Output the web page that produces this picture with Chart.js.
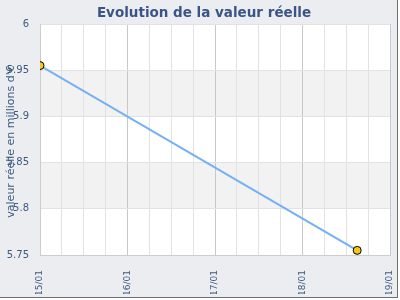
<!DOCTYPE html>
<html>
<head>
<meta charset="utf-8">
<script src="https://cdn.jsdelivr.net/npm/chart.js@4/dist/chart.umd.min.js"></script>
<style>
  html, body { margin: 0; padding: 0; background: #fff; }
  #wrap { width: 397px; height: 297px; background: #ecedf0; border-right: 1px solid #6e6e6e; border-bottom: 1px solid #6e6e6e; }
</style>
</head>
<body>
<div id="wrap"><canvas id="myChart" width="397" height="297"></canvas></div>
<script>
    // Data
    var dayLabels = ['15/01', '16/01', '17/01', '18/01', '19/01'];
    var pointDays = [0, 3.625]; // days after 15/01
    var values = [5.955, 5.755];
    var yTicks = [5.75, 5.8, 5.85, 5.9, 5.95, 6];
    var shadedBands = [[5.9, 5.95], [5.8, 5.85]];

    var chartTitle = 'Evolution de la valeur réelle';
    var yTitle = "valeur réelle en millions d'€";
    var textColor = '#3d5a80';
    var font = 'DejaVu Sans';

    var points = pointDays.map(function (d, i) {
        return { x: d, y: values[i] };
    });

    // White plot area with alternating grey bands
    var bandsPlugin = {
        id: 'bands',
        beforeDraw: function (chart) {
            var ctx = chart.ctx;
            var area = chart.chartArea;
            var y = chart.scales.y;
            ctx.save();
            ctx.fillStyle = '#ffffff';
            ctx.fillRect(area.left, area.top, area.right - area.left, area.bottom - area.top);
            ctx.fillStyle = '#f2f2f2';
            shadedBands.forEach(function (b) {
                var top = y.getPixelForValue(b[1]);
                var bottom = y.getPixelForValue(b[0]);
                ctx.fillRect(area.left, top, area.right - area.left, bottom - top);
            });
            ctx.restore();
        }
    };

    // Titles: chart title a bit right of centre, y title over the tick labels
    var titlesPlugin = {
        id: 'titles',
        afterDraw: function (chart) {
            var ctx = chart.ctx;
            var area = chart.chartArea;
            ctx.save();
            ctx.fillStyle = '#3a5585';
            ctx.font = 'bold 13.5px ' + font;
            ctx.textAlign = 'center';
            ctx.textBaseline = 'alphabetic';
            ctx.fillText(chartTitle, 204, 17);

            ctx.translate(11, (area.top + area.bottom) / 2 + 2);
            ctx.rotate(-Math.PI / 2);
            ctx.font = '11px ' + font;
            ctx.fillStyle = textColor;
            ctx.textBaseline = 'middle';
            ctx.fillText(yTitle, 0, 0);
            ctx.restore();
        }
    };

    var ctx = document.getElementById('myChart').getContext('2d');
    var chart = new Chart(ctx, {
        type: 'scatter',
        data: {
            datasets: [{
                label: 'valeur réelle',
                data: points,
                showLine: true,
                borderColor: '#74b0f4',
                borderWidth: 2,
                pointBackgroundColor: '#f7c617',
                pointBorderColor: '#000000',
                pointBorderWidth: 1,
                pointRadius: 4,
                pointHoverRadius: 4
            }]
        },
        plugins: [bandsPlugin, titlesPlugin],
        options: {
            responsive: false,
            animation: false,
            layout: { padding: { left: 6, right: 7, top: 24, bottom: 3 } },
            plugins: {
                legend: { display: false },
                tooltip: { enabled: false }
            },
            scales: {
                x: {
                    type: 'linear',
                    min: 0,
                    max: dayLabels.length - 1,
                    border: { display: true, color: '#cccccc' },
                    grid: {
                        color: function (c) {
                            return Number.isInteger(c.tick.value) ? '#c8c8c8' : '#e2e2e2';
                        },
                        drawTicks: false
                    },
                    ticks: {
                        stepSize: 0.25,
                        autoSkip: false,
                        maxRotation: 90,
                        minRotation: 90,
                        padding: 15,
                        color: textColor,
                        font: { family: font, size: 9 },
                        callback: function (v) {
                            return Number.isInteger(v) ? dayLabels[v] : '';
                        }
                    },
                    afterFit: function (scale) {
                        scale.paddingLeft = 0;
                        scale.paddingRight = 0;
                        scale.height = 39;
                    }
                },
                y: {
                    min: yTicks[0],
                    max: yTicks[yTicks.length - 1],
                    border: { display: true, color: '#cccccc' },
                    afterBuildTicks: function (scale) {
                        scale.ticks = yTicks.map(function (v) { return { value: v }; });
                    },
                    grid: { color: '#e2e2e2', drawTicks: false },
                    ticks: {
                        padding: 11,
                        color: textColor,
                        font: { family: font, size: 10 },
                        callback: function (v) { return String(+v.toFixed(2)); }
                    },
                    afterFit: function (scale) {
                        scale.width = 34;
                        scale.paddingTop = 0;
                    }
                }
            }
        }
    });
</script>
</body>
</html>
